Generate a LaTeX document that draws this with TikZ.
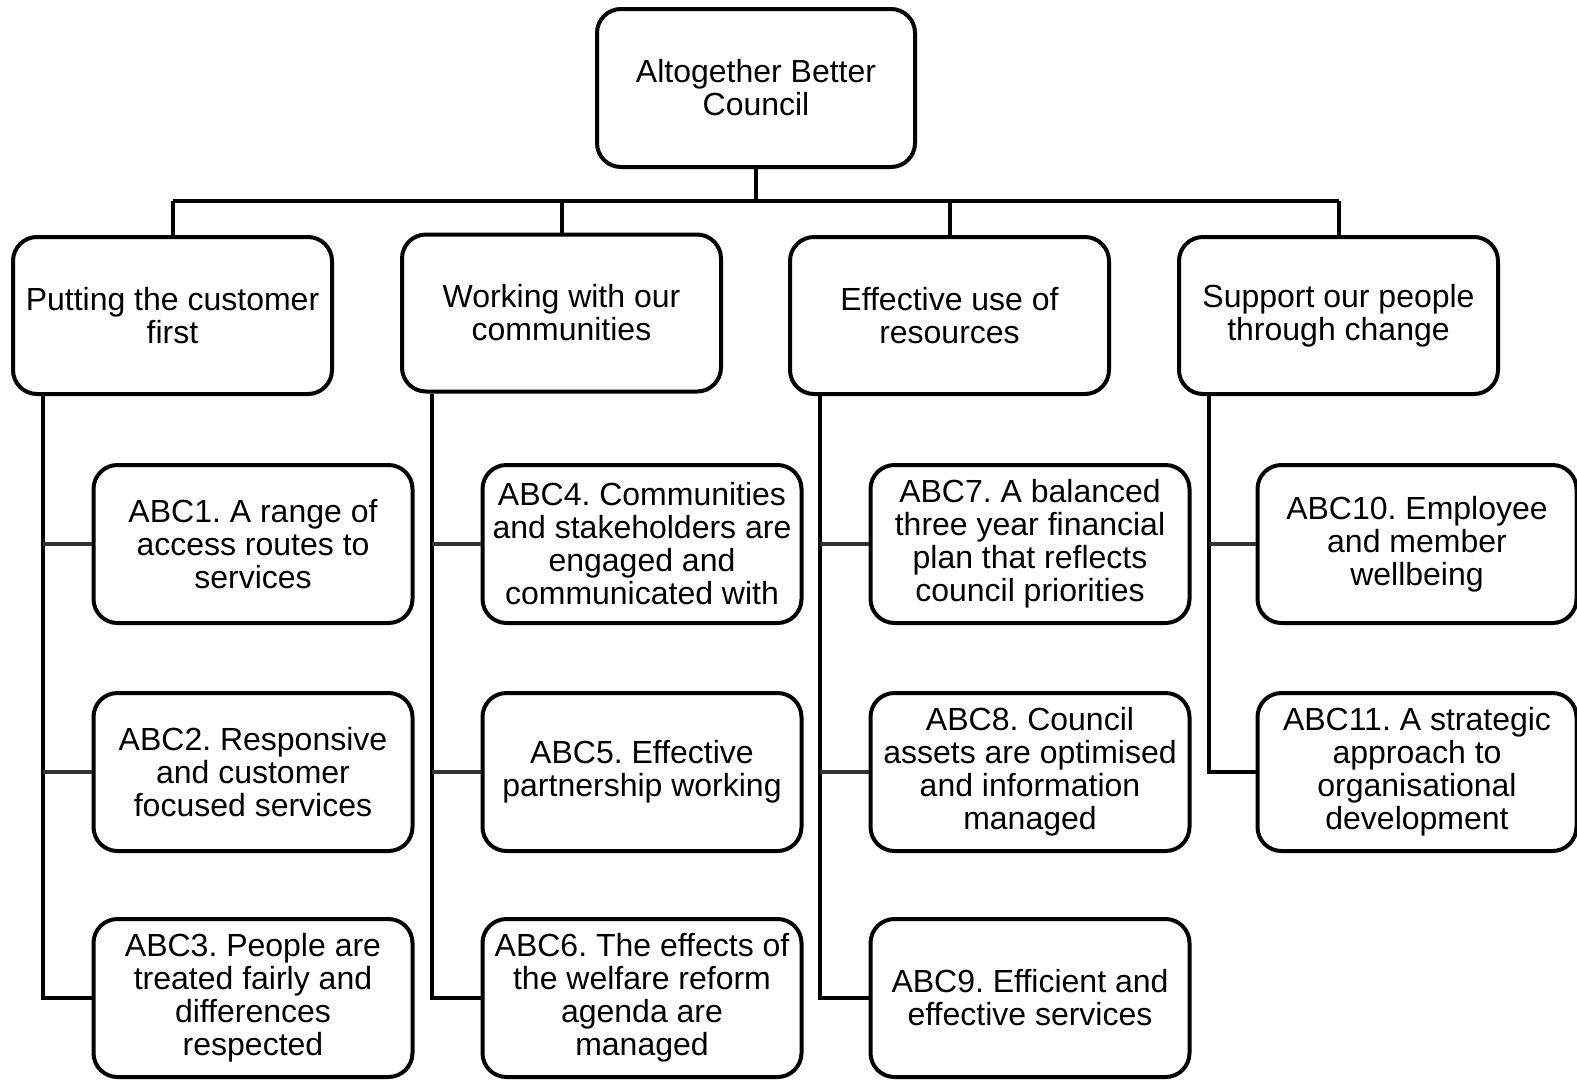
\documentclass[tikz,border=0pt]{standalone}
\usepackage{fontspec}
\setmainfont{Liberation Sans}
\usetikzlibrary{calc}
\begin{document}
\frenchspacing
\begin{tikzpicture}[x=1pt,y=-1pt,
  box/.style={draw=black,line width=4pt,rounded corners=24pt,fill=white,
    align=center,inner sep=0pt,font=\fontsize{32}{33}\selectfont},
  topbox/.style={box,minimum width=318pt,minimum height=158pt},
  parentbox/.style={box,minimum width=319pt,minimum height=157pt},
  childbox/.style={box,minimum width=319pt,minimum height=158pt},
  link/.style={draw=black,line width=4pt},
  branch/.style={draw=black!80,line width=3.5pt}]
\useasboundingbox[fill=white] (0,0) rectangle (1577,1080);

\node[topbox] (top) at (756,88) {Altogether Better\\Council};

\node[parentbox] (p1) at (172.5,315.5) {Putting the customer\\first};
\node[parentbox] (p2) at (561.5,313) {Working with our\\communities};
\node[parentbox] (p3) at (949.5,315.5) {Effective use of\\resources};
\node[parentbox] (p4) at (1338.5,315.5) {Support our people\\through change};

\node[childbox] (c1) at (253,544) {ABC1. A range of\\access routes to\\services};
\node[childbox] (c2) at (253,772) {ABC2. Responsive\\and customer\\focused services};
\node[childbox] (c3) at (253,998) {ABC3. People are\\treated fairly and\\differences\\respected};
\node[childbox] (c4) at (642,544) {ABC4. Communities\\and stakeholders are\\engaged and\\communicated with};
\node[childbox] (c5) at (642,772) {ABC5. Effective\\partnership working};
\node[childbox] (c6) at (642,998) {ABC6. The effects of\\the welfare reform\\agenda are\\managed};
\node[childbox] (c7) at (1030,544) {ABC7. A balanced\\three year financial\\plan that reflects\\council priorities};
\node[childbox] (c8) at (1030,772) {ABC8. Council\\assets are optimised\\and information\\managed};
\node[childbox] (c9) at (1030,998) {ABC9. Efficient and\\effective services};
\node[childbox] (c10) at (1417,544) {ABC10. Employee\\and member\\wellbeing};
\node[childbox] (c11) at (1417,772) {ABC11. A strategic\\approach to\\organisational\\development};

% bus
\coordinate (bus) at (756,201);
\coordinate (busL) at (172.5,201);
\coordinate (busR) at (1338.5,201);
\draw[link] (top.south) -- (bus);
\draw[link] (busL) -- (busR);
\foreach \p in {p1,p2,p3,p4}{
  \draw[link] (\p.north) -- (\p.north |- bus);
}

% spines
\coordinate (s1) at ($(p1.south west)+(32,0)$);
\coordinate (s2) at ($(p2.south west)+(32,0)$);
\coordinate (s3) at ($(p3.south west)+(32,0)$);
\coordinate (s4) at ($(p4.south west)+(32,0)$);

\draw[link] (s1) |- (c3.west);
\draw[branch] (c1.west) -- (c1.west -| s1);
\draw[branch] (c2.west) -- (c2.west -| s1);

\draw[link] (s2) |- (c6.west);
\draw[branch] (c4.west) -- (c4.west -| s2);
\draw[branch] (c5.west) -- (c5.west -| s2);

\draw[link] (s3) |- (c9.west);
\draw[branch] (c7.west) -- (c7.west -| s3);
\draw[branch] (c8.west) -- (c8.west -| s3);

\draw[link] (s4) |- (c11.west);
\draw[branch] (c10.west) -- (c10.west -| s4);
\end{tikzpicture}
\end{document}
